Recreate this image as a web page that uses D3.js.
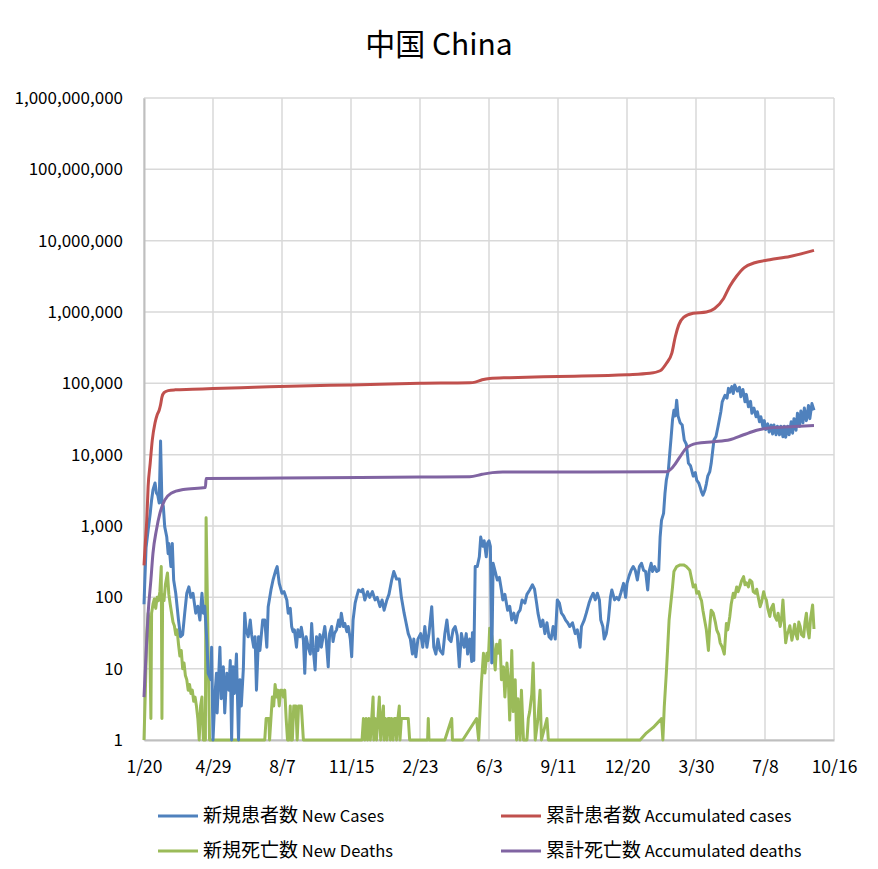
<!DOCTYPE html>
<html>
<head>
<meta charset="utf-8">
<script src="https://cdn.jsdelivr.net/npm/d3@7"></script>
<style>
  html, body { margin: 0; padding: 0; background: #fff; }
  svg { display: block; font-family: "Noto Sans CJK JP", "Noto Sans", sans-serif; }
</style>
</head>
<body>
<svg id="chart" width="878" height="869"></svg>
<script>
// ---- Data (day offset from 2020-01-20, value) ----
const startDate = new Date(2020, 0, 20);
const xTickDays = [0, 100, 200, 300, 400, 500, 600, 700, 800, 900, 1000];
const yTickValues = [1, 10, 100, 1000, 1e4, 1e5, 1e6, 1e7, 1e8, 1e9];

const seriesNamesJa = ["新規患者数", "累計患者数", "新規死亡数", "累計死亡数"];
const seriesNamesEn = ["New Cases", "Accumulated cases", "New Deaths", "Accumulated deaths"];
const seriesColors = ["#4F81BD", "#C0504D", "#9BBB59", "#8064A2"];

const newCases = [[0,80],[1,150],[3,500],[6,880],[9,1500],[11,2300],[13,3200],[16,4000],[18,2900],[20,2700],[22,2100],[24,15500],[26,2100],[28,1900],[30,980],[33,700],[35,410],[36,570],[39,270],[41,570],[43,175],[46,114],[50,48],[53,28],[56,30],[59,60],[62,114],[65,140],[68,100],[71,114],[73,83],[75,60],[78,75],[81,48],[84,114],[86,60],[88,75],[91,25],[93,8.6],[97,7],[98,20],[100,1],[103,4.5],[105,8.6],[106,2.4],[110,20],[112,3.8],[115,10.6],[117,2.4],[120,8.6],[123,5],[125,13],[127,1],[129,10.6],[131,4.5],[134,16],[137,1],[139,7],[141,3],[144,10],[146,60],[148,35],[151,28],[154,48],[156,30],[159,20],[161,28],[163,5],[166,28],[168,18],[172,48],[175,48],[178,20],[180,74],[184,127],[187,175],[191,240],[193,270],[196,157],[200,114],[203,120],[207,92],[209,60],[212,70],[214,39],[216,33],[218,35],[221,20],[223,35],[226,28],[228,38],[231,25],[233,8.6],[235,28],[238,20],[241,16],[243,43],[245,20],[248,9.6],[250,28],[252,18],[255,30],[257,20],[259,26],[262,39],[264,26],[267,10.6],[269,31],[272,39],[274,24],[276,31],[279,35],[282,48],[284,39],[286,60],[289,39],[291,43],[294,33],[296,39],[299,26],[301,14.7],[303,48],[306,83],[308,100],[311,127],[315,120],[317,130],[320,92],[324,120],[327,100],[331,120],[335,92],[338,100],[342,74],[345,92],[348,66],[352,92],[355,110],[359,175],[362,230],[366,180],[370,180],[373,100],[377,60],[379,48],[383,31],[386,26],[389,16],[391,26],[394,14.7],[397,26],[401,31],[404,20],[407,39],[410,20],[413,31],[417,74],[420,20],[423,16],[426,26],[429,18],[433,16],[436,31],[439,48],[442,26],[445,24],[448,35],[451,39],[454,29],[457,10.6],[460,31],[464,20],[467,31],[469,16],[472,26],[475,12.6],[476,32],[478,13],[480,270],[483,270],[486,370],[488,700],[491,520],[493,620],[496,370],[498,580],[500,620],[502,520],[504,12],[506,300],[509,230],[512,175],[515,190],[518,127],[520,92],[523,110],[527,66],[530,75],[533,48],[536,60],[539,44],[542,60],[545,66],[548,92],[552,83],[555,110],[559,127],[563,150],[566,130],[569,83],[571,60],[575,39],[578,48],[581,31],[584,44],[587,28],[590,26],[593,39],[596,26],[599,92],[602,83],[605,60],[608,55],[611,48],[614,44],[617,39],[621,44],[625,31],[628,35],[632,20],[634,39],[638,48],[641,60],[645,83],[648,100],[651,114],[654,92],[657,114],[660,92],[662,48],[665,39],[667,26],[670,31],[673,48],[676,100],[678,127],[682,92],[685,100],[688,92],[691,114],[695,157],[698,100],[700,157],[703,200],[706,240],[709,270],[712,240],[715,175],[718,270],[721,300],[724,240],[727,230],[730,127],[732,230],[735,300],[737,230],[740,270],[743,230],[746,240],[748,700],[750,1200],[753,1500],[755,2850],[757,4400],[760,6100],[762,10500],[764,17700],[766,31000],[768,42000],[770,35000],[772,58000],[774,35000],[777,28000],[780,26000],[783,16000],[786,14000],[789,7600],[792,7000],[796,5000],[799,5600],[801,4400],[804,4000],[806,3500],[808,3000],[810,2700],[813,3200],[815,3900],[817,5000],[820,5800],[822,7500],[826,16000],[829,18000],[832,25000],[836,40000],[838,55000],[842,68000],[845,62000],[847,85000],[849,75000],[852,90000],[854,72000],[856,95000],[860,78000],[863,88000],[865,65000],[868,82000],[871,55000],[873,70000],[876,47000],[879,56000],[881,38000],[884,45000],[887,34000],[889,40000],[892,29000],[894,34000],[897,24500],[899,30000],[901,22500],[904,27000],[906,20800],[909,26000],[911,19500],[913,26000],[916,19000],[918,25000],[921,19000],[923,25000],[926,17800],[928,25000],[930,17500],[933,25000],[935,19000],[938,29000],[940,20000],[942,32000],[945,22000],[947,38000],[950,25000],[952,41000],[955,28000],[957,45000],[960,30000],[963,49000],[965,32000],[968,52000],[971,42000]];

const accCases = [[0,280],[2,600],[4,1200],[6,3600],[9,7600],[12,16000],[16,28000],[19,36000],[22,42000],[24,50000],[26,64000],[29,74000],[35,79000],[45,81000],[70,82500],[100,84500],[160,88000],[226,92000],[300,95000],[400,100000],[472,102000],[480,104000],[490,112000],[501,117000],[530,120000],[600,125000],[700,132000],[733,138000],[748,150000],[757,190000],[765,265000],[770,450000],[775,660000],[782,840000],[796,960000],[815,1000000],[827,1120000],[840,1550000],[849,2300000],[859,3200000],[870,4200000],[885,4900000],[907,5400000],[936,6000000],[971,7300000]];

const newDeaths = [[0,1],[2,5],[4,30],[6,60],[8,45],[10,2],[11,60],[13,80],[15,95],[17,70],[19,100],[21,90],[23,120],[25,270],[26,2],[27,110],[29,90],[31,150],[34,220],[36,110],[38,80],[40,60],[42,45],[44,40],[46,30],[48,35],[50,22],[52,15],[54,18],[56,10],[58,12],[60,8],[62,7],[64,5],[66,6],[68,4.5],[70,5],[72,3.5],[74,4],[76,3],[78,2],[80,1],[82,3],[84,4],[86,1],[89,1],[90,1300],[95,1],[175,1],[177,2],[181,2],[182,1],[184,2],[186,4],[188,3],[190,6],[192,4],[194,5],[196,3],[198,5],[200,5],[202,4],[204,5],[206,2],[208,1],[210,1],[212,3],[213,1],[215,1],[217,3],[220,3],[222,1],[224,3],[228,3],[231,1],[316,1],[318,2],[320,1],[322,2],[324,1],[326,2],[328,1],[330,2],[332,4],[333,1],[335,2],[337,1],[339,2],[341,4],[342,2],[343,1],[345,2],[347,3],[348,1],[350,2],[352,1],[354,2],[356,2],[357,1],[359,2],[361,1],[363,2],[365,2],[366,1],[368,2],[370,3],[371,1],[373,2],[375,2],[377,2],[379,2],[381,2],[383,2],[385,1],[411,1],[412,2],[413,1],[436,1],[446,2],[447,1],[462,1],[482,2],[485,1],[489,6.3],[492,16.5],[494,8.7],[497,16.5],[499,13],[501,37],[504,29],[506,20],[509,9.6],[511,22],[513,16.5],[516,25],[518,7],[521,10.6],[523,4],[526,12],[528,7],[530,1.9],[533,18],[535,2.5],[538,7],[540,1],[542,3.8],[545,1],[547,5],[550,1],[555,1],[557,2],[559,2.5],[562,4.4],[564,12],[567,1],[571,2],[574,5],[576,1],[584,2],[586,1],[719,1],[728,1.25],[738,1.5],[748,1.9],[750,2],[752,1],[754,2.9],[757,8.7],[759,20],[761,48],[763,74],[766,140],[768,230],[772,270],[777,285],[782,285],[786,270],[791,240],[796,140],[799,150],[801,114],[804,120],[806,100],[808,90],[810,66],[813,45],[815,35],[818,18],[820,40],[822,66],[825,60],[828,45],[830,35],[833,30],[835,23],[838,20],[841,16],[844,43],[846,35],[849,54],[851,80],[854,114],[856,100],[859,140],[861,120],[864,145],[866,170],[869,195],[871,150],[873,160],[876,140],[878,175],[881,165],[883,120],[886,114],[888,130],[891,92],[893,74],[895,85],[898,120],[900,100],[902,92],[904,70],[907,54],[909,70],[912,80],[914,55],[917,48],[919,60],[922,39],[924,50],[926,92],[928,45],[930,23],[932,30],[934,34],[936,40],[939,25],[941,32],[943,42],[945,30],[947,26],[949,45],[951,39],[953,30],[956,28],[958,45],[960,60],[962,35],[964,27],[966,50],[969,78],[971,36]];

const accDeaths = [[0,4],[3,16],[6,60],[10,175],[13,415],[18,880],[23,1500],[30,2300],[40,2900],[57,3250],[89,3470],[90,4640],[200,4700],[400,4850],[472,4900],[490,5300],[505,5600],[520,5700],[600,5720],[757,5750],[767,6800],[777,9400],[786,12400],[801,14400],[825,15200],[849,16200],[869,19000],[888,22000],[912,24000],[936,24700],[971,25700]];

// ---- Layout ----
const svg = d3.select("#chart");
const W = 878, H = 869;
const plotLeft = 144, plotRight = 834, plotTop = 98, plotBottom = 740;

const toDate = d => d3.timeDay.offset(startDate, d);
const x = d3.scaleTime().domain([toDate(0), toDate(1000)]).range([plotLeft, plotRight]);
const y = d3.scaleLog().domain([1, 1e9]).range([plotBottom, plotTop]);

// Title
svg.append("text").attr("x", W / 2).attr("y", 55).attr("text-anchor", "middle")
  .attr("font-size", 30).attr("fill", "#000").text("中国 China");

// Gridlines
const grid = svg.append("g");
grid.selectAll("line.h").data(yTickValues).join("line")
  .attr("x1", plotLeft).attr("x2", plotRight).attr("y1", d => y(d)).attr("y2", d => y(d))
  .attr("stroke", "#D9D9D9").attr("stroke-width", 1.5);
grid.selectAll("line.v").data(xTickDays).join("line")
  .attr("y1", plotTop).attr("y2", plotBottom).attr("x1", d => x(toDate(d))).attr("x2", d => x(toDate(d)))
  .attr("stroke", "#D9D9D9").attr("stroke-width", 1.5);

// Axes
const fmtDate = d3.timeFormat("%-m/%-d");
const xAxis = d3.axisBottom(x).tickValues(xTickDays.map(toDate)).tickFormat(fmtDate).tickSize(0).tickPadding(21);
const yAxis = d3.axisLeft(y).tickValues(yTickValues).tickFormat(d3.format(",")).tickSize(0).tickPadding(21);

const gx = svg.append("g").attr("transform", `translate(0,${plotBottom})`).call(xAxis);
const gy = svg.append("g").attr("transform", `translate(${plotLeft},0)`).call(yAxis);
[gx, gy].forEach(g => {
  g.select(".domain").attr("stroke", "#BFBFBF").attr("stroke-width", 2);
  g.selectAll("text").attr("fill", "#000").attr("font-family", "'Noto Sans CJK JP', sans-serif");
});
gx.selectAll("text").attr("font-size", 17.5);
gy.selectAll("text").attr("font-size", 17);

// Lines
const line = d3.line().x(d => x(toDate(d[0]))).y(d => y(Math.max(1, d[1])));
const smooth = d3.line().x(d => x(toDate(d[0]))).y(d => y(Math.max(1, d[1]))).curve(d3.curveMonotoneX);

const plot = svg.append("g").attr("fill", "none").attr("stroke-width", 3).attr("stroke-linejoin", "round");
plot.append("path").datum(newDeaths).attr("d", line).attr("stroke", seriesColors[2]);
plot.append("path").datum(newCases).attr("d", line).attr("stroke", seriesColors[0]);
plot.append("path").datum(accCases).attr("d", smooth).attr("stroke", seriesColors[1]);
plot.append("path").datum(accDeaths).attr("d", smooth).attr("stroke", seriesColors[3]);

// Legend
const legendPos = [[158, 816], [501, 816], [158, 851], [501, 851]];
const lg = svg.append("g");
seriesNamesJa.forEach((ja, i) => {
  const [lx, ly] = legendPos[i];
  lg.append("line").attr("x1", lx).attr("x2", lx + 40).attr("y1", ly).attr("y2", ly)
    .attr("stroke", seriesColors[i]).attr("stroke-width", 3);
  const t = lg.append("text").attr("x", lx + 45).attr("y", ly).attr("dy", "0.35em").attr("fill", "#000");
  t.append("tspan").attr("font-size", 19).text(ja);
  t.append("tspan").attr("font-size", 16.5).text(" " + seriesNamesEn[i]);
});
</script>
</body>
</html>
